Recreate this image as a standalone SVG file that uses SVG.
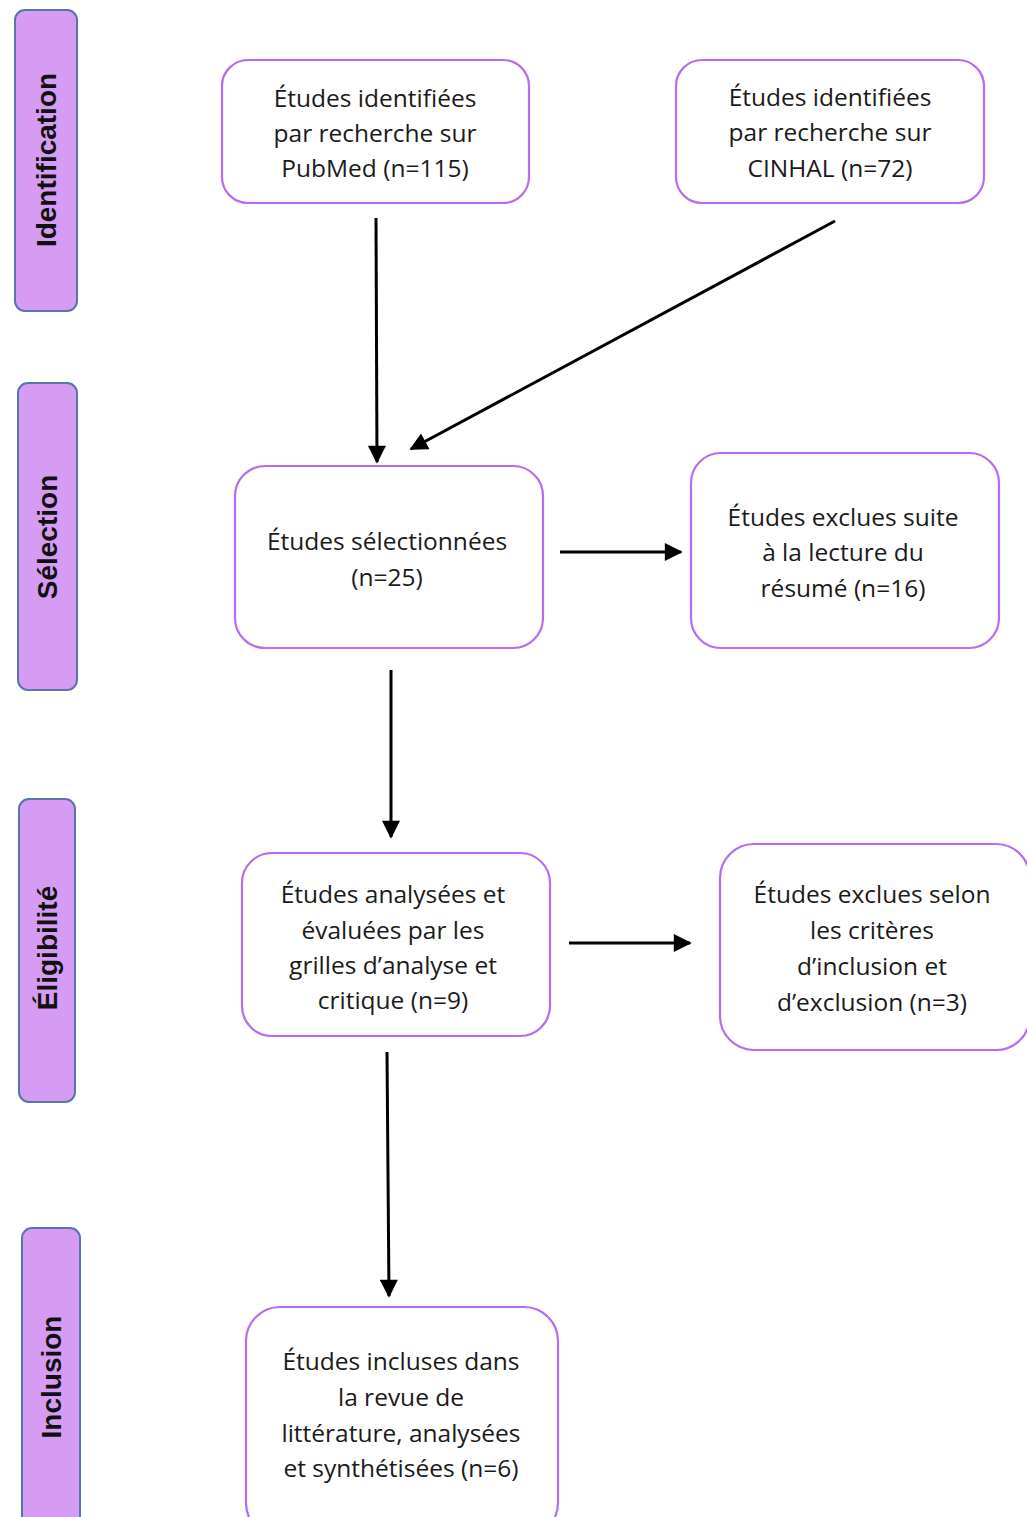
<svg xmlns="http://www.w3.org/2000/svg" width="1027" height="1517" viewBox="0 0 1027 1517">
<defs>
<style>
.bar{fill:#d69cf4;stroke:#5a74ad;stroke-width:2}
.bt{font-family:"Liberation Sans",Arial,sans-serif;font-weight:bold;font-size:28px;fill:#111;text-anchor:middle;dominant-baseline:central}
.node{fill:#fff;stroke:#b46cf0;stroke-width:2.2}
.nt{font-family:"Open Sans",sans-serif;font-size:24.5px;fill:#1a1a1a;text-anchor:middle}
.conn{stroke:#000;stroke-width:3;fill:none;marker-end:url(#ah)}
</style>
<marker id="ah" viewBox="0 0 10 10" refX="9" refY="5" markerWidth="8" markerHeight="6" markerUnits="strokeWidth" orient="auto">
<path d="M0,0 L10,5 L0,10 z" fill="#000"/>
</marker>
</defs>
<rect width="1027" height="1517" fill="#fff"/>
<g id="lane-identification">
<rect class="bar" x="15" y="10" width="62" height="301" rx="10"/>
<text class="bt" transform="translate(46,160) rotate(-90)">Identification</text>
</g>
<g id="lane-selection">
<rect class="bar" x="18" y="383" width="59" height="307" rx="10"/>
<text class="bt" transform="translate(47,537) rotate(-90)">Sélection</text>
</g>
<g id="lane-eligibilite">
<rect class="bar" x="19" y="799" width="56" height="303" rx="10"/>
<text class="bt" transform="translate(47,948) rotate(-90)">Éligibilité</text>
</g>
<g id="lane-inclusion">
<rect class="bar" x="22" y="1228" width="58" height="300" rx="10"/>
<text class="bt" transform="translate(51,1377) rotate(-90)">Inclusion</text>
</g>
<g id="n-pubmed">
<rect class="node" x="222" y="60" width="307" height="143" rx="26"/>
<text class="nt" x="375" y="107">Études identifiées</text>
<text class="nt" x="375" y="142">par recherche sur</text>
<text class="nt" x="375" y="177">PubMed (n=115)</text>
</g>
<g id="n-cinhal">
<rect class="node" x="676" y="60" width="308" height="143" rx="26"/>
<text class="nt" x="830" y="106">Études identifiées</text>
<text class="nt" x="830" y="141">par recherche sur</text>
<text class="nt" x="830" y="177">CINHAL (n=72)</text>
</g>
<g id="n-selection">
<rect class="node" x="235" y="466" width="308" height="182" rx="30"/>
<text class="nt" x="387" y="550">Études sélectionnées</text>
<text class="nt" x="387" y="586">(n=25)</text>
</g>
<g id="n-exclues-resume">
<rect class="node" x="691" y="453" width="308" height="195" rx="30"/>
<text class="nt" x="843" y="526">Études exclues suite</text>
<text class="nt" x="843" y="561">à la lecture du</text>
<text class="nt" x="843" y="597">résumé (n=16)</text>
</g>
<g id="n-analysees">
<rect class="node" x="242" y="853" width="308" height="183" rx="30"/>
<text class="nt" x="393" y="903">Études analysées et</text>
<text class="nt" x="393" y="939">évaluées par les</text>
<text class="nt" x="393" y="974">grilles d’analyse et</text>
<text class="nt" x="393" y="1009">critique (n=9)</text>
</g>
<g id="n-exclues-criteres">
<rect class="node" x="720" y="844" width="310" height="206" rx="34"/>
<text class="nt" x="872" y="903">Études exclues selon</text>
<text class="nt" x="872" y="939">les critères</text>
<text class="nt" x="872" y="975">d’inclusion et</text>
<text class="nt" x="872" y="1011">d’exclusion (n=3)</text>
</g>
<g id="n-incluses">
<rect class="node" x="246" y="1307" width="312" height="230" rx="34"/>
<text class="nt" x="401" y="1370">Études incluses dans</text>
<text class="nt" x="401" y="1406">la revue de</text>
<text class="nt" x="401" y="1442">littérature, analysées</text>
<text class="nt" x="401" y="1477">et synthétisées (n=6)</text>
</g>
<g id="connectors">
<line class="conn" x1="376" y1="218" x2="377" y2="462"/>
<line class="conn" x1="835" y1="221" x2="411" y2="449"/>
<line class="conn" x1="560" y1="552" x2="681" y2="552"/>
<line class="conn" x1="391" y1="670" x2="391" y2="837"/>
<line class="conn" x1="569" y1="943" x2="690" y2="943"/>
<line class="conn" x1="387" y1="1052" x2="389" y2="1296"/>
</g>
</svg>
